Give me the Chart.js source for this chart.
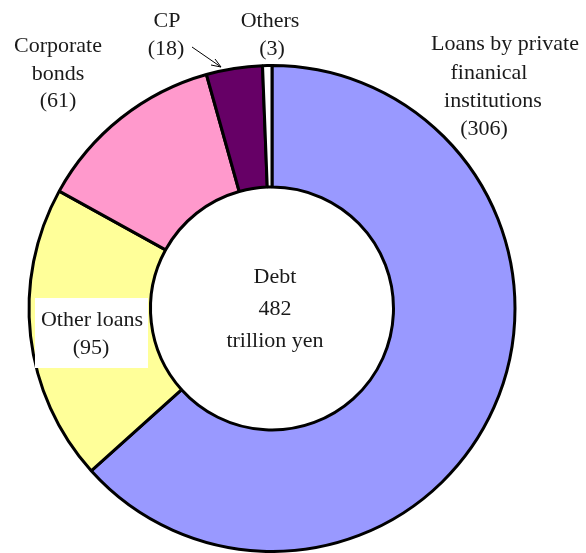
<!DOCTYPE html>
<html>
<head>
<meta charset="utf-8">
<script src="https://cdn.jsdelivr.net/npm/chart.js@4"></script>
<style>
  body { margin: 0; background: #fff; }
  #fontProbe { font-family: "Liberation Serif"; position: absolute; left: -1000px; }
</style>
</head>
<body>
<span id="fontProbe">Loans</span>
<canvas id="debtChart" width="586" height="553"></canvas>
<script>
// values in trillion yen, clockwise from 12 o'clock
const categories = ['Loans by private finanical institutions', 'Other loans', 'Corporate bonds', 'CP', 'Others'];
const amounts = [306, 95, 61, 18, 3];
const sliceColors = ['#9999FF', '#FFFF99', '#FF99CC', '#660066', '#FFFFFF'];
const centerLines = ['Debt', '482', 'trillion yen'];

// label text blocks: lines with their x centres and baselines
const labelBlocks = [
    { lines: ['Loans by private', 'finanical', 'institutions', '(306)'], xs: [505, 489, 493, 484], ys: [50, 79, 107, 135] },
    { lines: ['Other loans', '(95)'], xs: [92, 91], ys: [326, 354], box: [35, 298, 113, 70] },
    { lines: ['Corporate', 'bonds', '(61)'], xs: [58, 58, 58], ys: [52, 80, 107] },
    { lines: ['CP', '(18)'], xs: [167, 166], ys: [27, 55] },
    { lines: ['Others', '(3)'], xs: [270, 272], ys: [27, 55] },
];

const FONT = '22px "Liberation Serif"';

const labelPlugin = {
    id: 'labels',
    afterDraw(chart) {
        const ctx = chart.ctx;
        ctx.save();
        ctx.font = FONT;
        ctx.textAlign = 'center';
        ctx.textBaseline = 'alphabetic';
        labelBlocks.forEach((b) => {
            if (b.box) {
                ctx.fillStyle = '#fff';
                ctx.fillRect(b.box[0], b.box[1], b.box[2], b.box[3]);
            }
            ctx.fillStyle = '#1a1a1a';
            b.lines.forEach((t, i) => ctx.fillText(t, b.xs[i], b.ys[i]));
        });

        // centre text
        const arc = chart.getDatasetMeta(0).data[0];
        const cx = arc.x + 3, cy = arc.y;
        [-26, 6, 38].forEach((dy, i) => ctx.fillText(centerLines[i], cx, cy + dy));

        // CP arrow
        ctx.strokeStyle = '#000';
        ctx.lineWidth = 1;
        ctx.beginPath();
        ctx.moveTo(192, 47);
        ctx.lineTo(221, 67);
        ctx.moveTo(221, 67);
        ctx.lineTo(211, 65);
        ctx.moveTo(221, 67);
        ctx.lineTo(215, 59);
        ctx.stroke();
        ctx.restore();
    }
};

function draw() {
    const ctx = document.getElementById('debtChart').getContext('2d');
    new Chart(ctx, {
        type: 'doughnut',
        data: {
            labels: categories,
            datasets: [
                {
                    data: amounts,
                    backgroundColor: sliceColors,
                    borderColor: '#000',
                    borderWidth: 3,
                },
            ],
        },
        options: {
            responsive: false,
            animation: false,
            cutout: '50%',
            layout: {
                padding: { left: 27, right: 69, top: 64, bottom: 0 },
            },
            plugins: {
                legend: { display: false },
                tooltip: { enabled: false },
            },
        },
        plugins: [labelPlugin],
    });
}

document.fonts.load(FONT).then(draw, draw);
</script>
</body>
</html>
